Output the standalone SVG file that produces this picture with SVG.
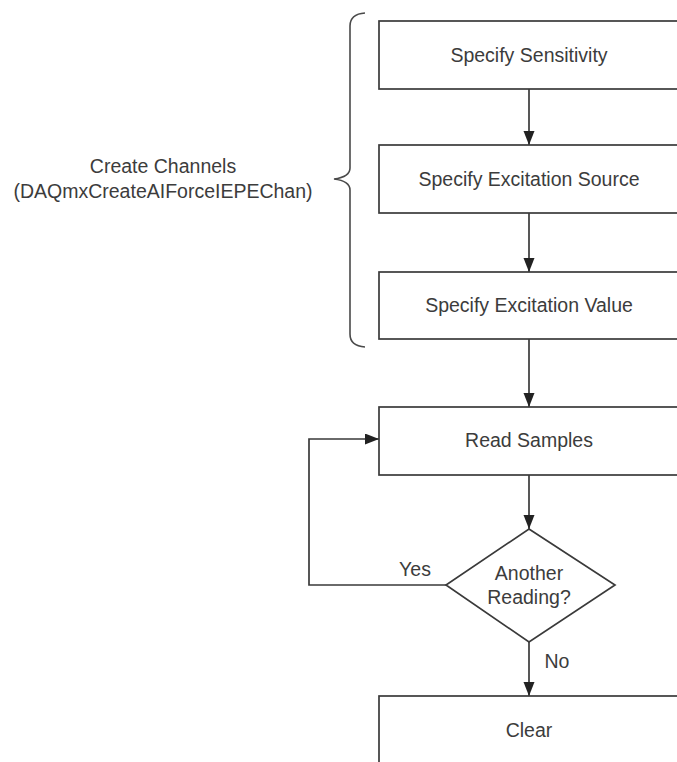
<svg xmlns="http://www.w3.org/2000/svg" width="677" height="762" viewBox="0 0 677 762">
  <style>
    .box { fill: #ffffff; stroke: #3a3a3a; stroke-width: 1.7; }
    .lbl { font-family: "Liberation Sans", Arial, sans-serif; font-size: 19.5px; fill: #3c3c3c; text-anchor: middle; }
    .edge { fill: none; stroke: #3a3a3a; stroke-width: 1.7; }
    .brace { fill: none; stroke: #4a4a4a; stroke-width: 1.6; }
  </style>
  <defs>
    <marker id="arr" markerUnits="userSpaceOnUse" markerWidth="14" markerHeight="12" refX="14" refY="5.5" orient="auto">
      <path d="M0,0 L14,5.5 L0,11 z" fill="#222222"/>
    </marker>
  </defs>
  <rect width="677" height="762" fill="#ffffff"/>

  <g id="connectors">
    <line class="edge" x1="529" y1="89" x2="529" y2="145" marker-end="url(#arr)"/>
    <line class="edge" x1="529" y1="213" x2="529" y2="272" marker-end="url(#arr)"/>
    <line class="edge" x1="529" y1="339" x2="529" y2="407" marker-end="url(#arr)"/>
    <line class="edge" x1="529" y1="475" x2="529" y2="529" marker-end="url(#arr)"/>
    <line class="edge" x1="529" y1="642" x2="529" y2="696" marker-end="url(#arr)"/>
    <polyline class="edge" points="446,585 309,585 309,439 379,439" marker-end="url(#arr)"/>
    <text class="lbl" x="415" y="576">Yes</text>
    <text class="lbl" x="557" y="668">No</text>
  </g>

  <g id="brace-group">
    <path class="brace" d="M365,13 Q350,14 350,26 L350,168 Q350,177 334,179 Q350,181 350,190 L350,334 Q350,346 365,347"/>
    <text class="lbl" x="163" y="173">Create Channels</text>
    <text class="lbl" x="163" y="198">(DAQmxCreateAIForceIEPEChan)</text>
  </g>

  <g id="specify-sensitivity">
    <rect class="box" x="379" y="21" width="310" height="68"/>
    <text class="lbl" x="529" y="62">Specify Sensitivity</text>
  </g>
  <g id="specify-excitation-source">
    <rect class="box" x="379" y="145" width="310" height="68"/>
    <text class="lbl" x="529" y="186">Specify Excitation Source</text>
  </g>
  <g id="specify-excitation-value">
    <rect class="box" x="379" y="272" width="310" height="67"/>
    <text class="lbl" x="529" y="312">Specify Excitation Value</text>
  </g>
  <g id="read-samples">
    <rect class="box" x="379" y="407" width="310" height="68"/>
    <text class="lbl" x="529" y="447">Read Samples</text>
  </g>
  <g id="another-reading">
    <polygon class="box" points="529,529 615,585 529,642 446,585"/>
    <text class="lbl" x="529" y="580">Another</text>
    <text class="lbl" x="529" y="604">Reading?</text>
  </g>
  <g id="clear">
    <rect class="box" x="379" y="696" width="310" height="80"/>
    <text class="lbl" x="529" y="737">Clear</text>
  </g>
</svg>
